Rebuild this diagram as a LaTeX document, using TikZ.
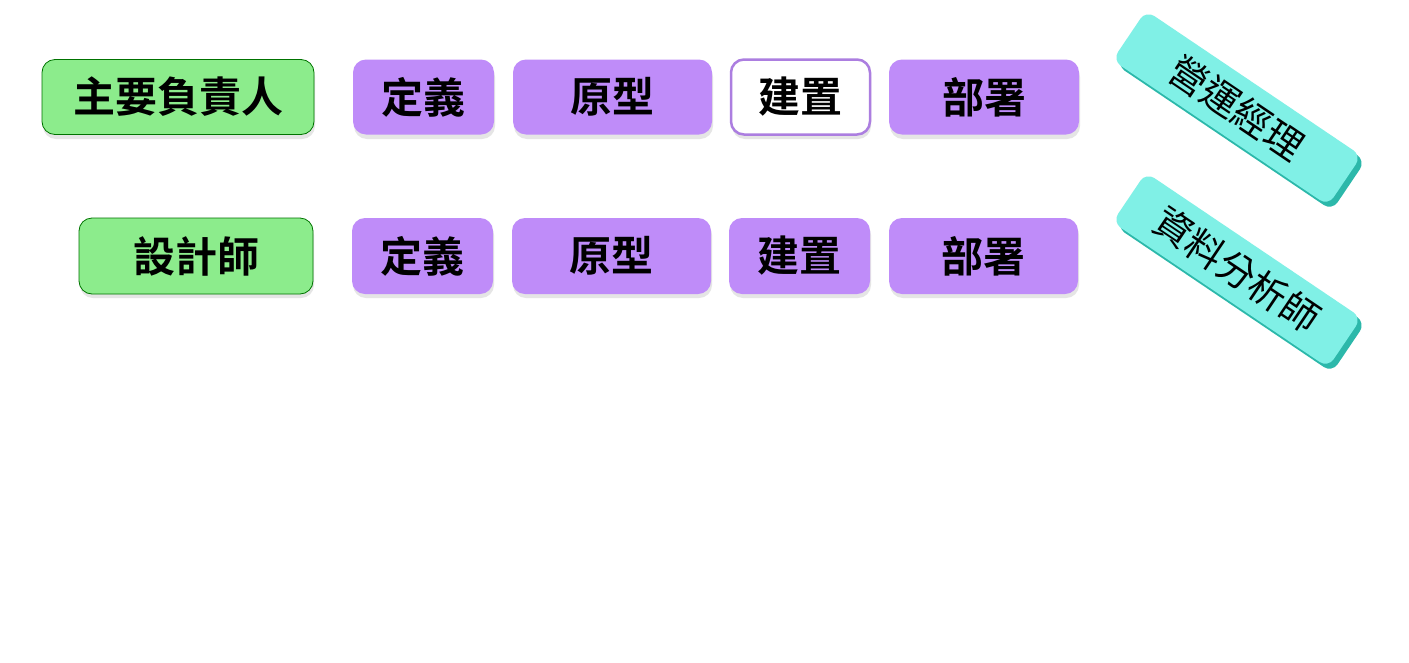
\documentclass[tikz,border=0pt]{standalone}
\usepackage{fontspec}
\newfontfamily\cjk{Noto Sans CJK TC}[BoldFont={Noto Sans CJK TC Bold}]
\begin{document}
\begin{tikzpicture}[x=1pt,y=-1pt,
  base/.style={rounded corners=13pt,inner sep=0pt,font=\cjk\bfseries\fontsize{42}{48}\selectfont},
  grn/.style={base,fill=green!45!white,draw=green!45!black,line width=0.8pt},
  pur/.style={base,fill=violet!45!white,draw=none},
  wht/.style={base,fill=white,draw=violet!45!white,line width=2.5pt},
  teal/.style={rounded corners=10pt,inner sep=0pt,font=\cjk\fontsize{38}{44}\selectfont}]
\definecolor{purp}{HTML}{BF8CF9}
\definecolor{grnf}{HTML}{8CEC8C}
\definecolor{tealf}{HTML}{80F0E6}
\definecolor{teald}{HTML}{2CB8AA}
\fill[white] (0,0) rectangle (1409,662);
\useasboundingbox (0,0) rectangle (1409,662);
\tikzset{pur/.append style={fill=purp},grn/.append style={fill=grnf},wht/.append style={draw=purp!90!black}}
% row 1
\foreach \xa/\xb/\n/\t/\s in {42/314/a1/主要負責人/grn,353/494/b1/定義/pur,513/712/c1/原型/pur,731/870/d1/建置/wht,889/1079/e1/部署/pur}{
  \fill[black!10,rounded corners=13pt] (\xa+1,64) rectangle (\xb+1,139);
  \node[\s,minimum width={\xb-\xa},minimum height=75pt] (\n) at ({(\xa+\xb)/2},97) {\t};}
\foreach \xa/\xb/\n/\t/\s in {79/313/a2/設計師/grn,352/493/b2/定義/pur,512/711/c2/原型/pur,729/870/d2/建置/pur,889/1078/e2/部署/pur}{
  \fill[black!10,rounded corners=13pt] (\xa+1,222) rectangle (\xb+1,298);
  \node[\s,minimum width={\xb-\xa},minimum height=76pt] (\n) at ({(\xa+\xb)/2},256) {\t};}
% teal tilted
\foreach \cy/\n/\t in {108/f1/營運經理,270/f2/資料分析師}{
  \fill[teald,rounded corners=10pt,rotate around={-34:(1241,\cy+5)}] (1241-130,\cy+5-30) rectangle (1241+130,\cy+5+30);
  \node[teal,fill=tealf,rotate=-34,minimum width=260pt,minimum height=60pt] (\n) at (1237,\cy) {\t};}
\end{tikzpicture}
\end{document}
